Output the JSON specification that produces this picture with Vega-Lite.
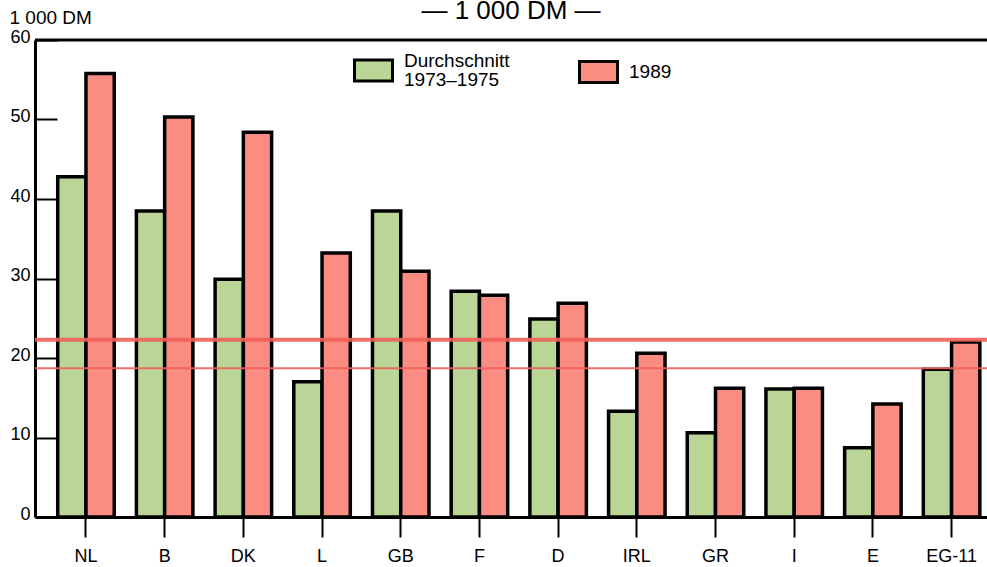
{
  "$schema": "https://vega.github.io/schema/vega-lite/v6.json",
  "width": 952,
  "height": 477,
  "autosize": {"type": "none"},
  "padding": {"left": 35, "top": 40, "right": 0, "bottom": 50},
  "background": "white",
  "config": {"view": {"stroke": null}, "font": "Liberation Sans"},
  "title": {"text": "— 1 000 DM —", "fontSize": 26, "fontWeight": "normal", "anchor": "middle", "baseline": "alphabetic", "offset": -37, "color": "black", "font": "Liberation Sans"},
  "datasets": {
    "bars": [
      {"land": "NL", "period": "1973–1975", "wert": 42.8}, {"land": "NL", "period": "1989", "wert": 55.8},
      {"land": "B", "period": "1973–1975", "wert": 38.5}, {"land": "B", "period": "1989", "wert": 50.3},
      {"land": "DK", "period": "1973–1975", "wert": 29.9}, {"land": "DK", "period": "1989", "wert": 48.4},
      {"land": "L", "period": "1973–1975", "wert": 17.0}, {"land": "L", "period": "1989", "wert": 33.2},
      {"land": "GB", "period": "1973–1975", "wert": 38.5}, {"land": "GB", "period": "1989", "wert": 30.9},
      {"land": "F", "period": "1973–1975", "wert": 28.4}, {"land": "F", "period": "1989", "wert": 27.9},
      {"land": "D", "period": "1973–1975", "wert": 24.9}, {"land": "D", "period": "1989", "wert": 26.9},
      {"land": "IRL", "period": "1973–1975", "wert": 13.3}, {"land": "IRL", "period": "1989", "wert": 20.6},
      {"land": "GR", "period": "1973–1975", "wert": 10.6}, {"land": "GR", "period": "1989", "wert": 16.2},
      {"land": "I", "period": "1973–1975", "wert": 16.1}, {"land": "I", "period": "1989", "wert": 16.2},
      {"land": "E", "period": "1973–1975", "wert": 8.7}, {"land": "E", "period": "1989", "wert": 14.2},
      {"land": "EG-11", "period": "1973–1975", "wert": 18.6}, {"land": "EG-11", "period": "1989", "wert": 22.0}
    ],
    "linien": [
      {"serie": "1989", "wert": 22.3},
      {"serie": "1973–1975", "wert": 18.7}
    ]
  },
  "layer": [
    {
      "data": {"name": "bars"},
      "mark": {"type": "bar", "stroke": "black", "strokeWidth": 3.5, "strokeJoin": "miter"},
      "encoding": {
        "x": {
          "field": "land", "type": "nominal", "sort": null,
          "scale": {"paddingInner": 0.282, "paddingOuter": 0.19, "align": 0.76},
          "axis": {"title": null, "domainColor": "black", "domainWidth": 3, "tickColor": "black", "tickWidth": 2, "tickSize": 20, "labelFontSize": 18, "labelColor": "black", "labelPadding": 10, "labelAngle": 0, "labelFont": "Liberation Sans"}
        },
        "xOffset": {"field": "period", "type": "nominal", "sort": ["1973–1975", "1989"], "scale": {"paddingInner": 0, "paddingOuter": 0}},
        "y": {
          "field": "wert", "type": "quantitative",
          "scale": {"domain": [0, 60], "nice": false},
          "axis": {"title": "1 000 DM", "titleAngle": 0, "titleX": -26, "titleY": -17, "titleAlign": "left", "titleBaseline": "alphabetic", "titleFontSize": 19, "titleFontWeight": "normal", "titleColor": "black", "titleFont": "Liberation Sans", "values": [0, 10, 20, 30, 40, 50, 60], "tickSize": -22, "tickWidth": 2, "tickColor": "black", "labelPadding": 27, "labelFontSize": 18, "labelColor": "black", "labelBaseline": "middle", "labelOffset": -3, "labelFlush": false, "labelFont": "Liberation Sans", "domainWidth": 3, "domainColor": "black", "grid": false}
        },
        "color": {
          "field": "period", "type": "nominal",
          "scale": {"domain": ["1973–1975", "1989"], "range": ["#bad696", "#fa8c82"]},
          "legend": {"orient": "none", "legendX": 318, "legendY": 10, "direction": "horizontal", "title": null, "symbolType": "M-1,-0.55H1V0.55H-1Z", "symbolSize": 1444, "symbolStrokeColor": "black", "symbolStrokeWidth": 3, "symbolOpacity": 1, "labelFontSize": 19, "labelColor": "black", "labelFont": "Liberation Sans", "labelOffset": 10, "labelBaseline": "middle", "labelLimit": 0, "columnPadding": 63, "padding": 0,
            "labelExpr": "datum.label === '1989' ? '1989' : ['Durchschnitt', '1973–1975']",
            "encode": {"labels": {"update": {"dy": {"signal": "datum.label === '1989' ? 0 : -9.5"}, "lineHeight": {"value": 19}}}}}
        }
      }
    },
    {
      "data": {"name": "linien"},
      "mark": {"type": "rule", "color": "#f0605a", "opacity": 0.9},
      "encoding": {
        "y": {"field": "wert", "type": "quantitative", "scale": {"domain": [0, 60], "nice": false}},
        "size": {"field": "serie", "type": "nominal", "scale": {"domain": ["1989", "1973–1975"], "range": [4, 2]}, "legend": null}
      }
    },
    {
      "data": {"values": [{}]},
      "mark": {"type": "rule", "color": "black", "strokeWidth": 3},
      "encoding": {"y": {"datum": 60, "type": "quantitative", "scale": {"domain": [0, 60], "nice": false}}}
    }
  ]
}
